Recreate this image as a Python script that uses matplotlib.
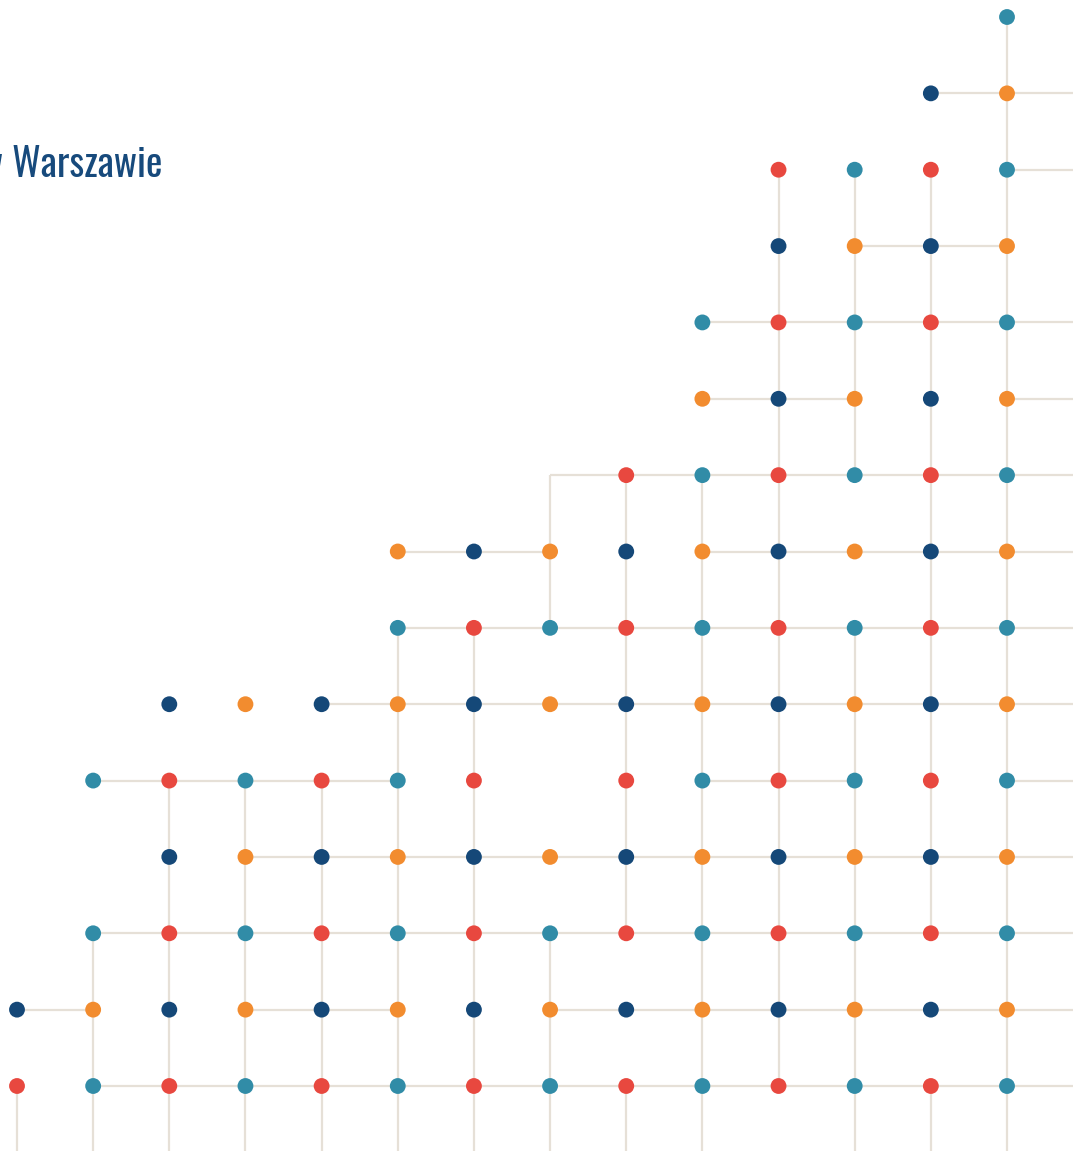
import matplotlib
matplotlib.use("Agg")
import matplotlib.pyplot as plt
from matplotlib.collections import LineCollection

# ---------------- data ----------------
# rows (0 = bottom) holding a dot, per column (0 = left)
column_dot_rows = [
    [0, 1],
    [0, 1, 2, 4],
    [0, 1, 2, 3, 4, 5],
    [0, 1, 2, 3, 4, 5],
    [0, 1, 2, 3, 4, 5],
    [0, 1, 2, 3, 4, 5, 6, 7],
    [0, 1, 2, 3, 4, 5, 6, 7],
    [0, 1, 2, 3, 5, 6, 7],
    [0, 1, 2, 3, 4, 5, 6, 7, 8],
    [0, 1, 2, 3, 4, 5, 6, 7, 8, 9, 10],
    [0, 1, 2, 3, 4, 5, 6, 7, 8, 9, 10, 11, 12],
    [0, 1, 2, 3, 4, 5, 6, 7, 8, 9, 10, 11, 12],
    [0, 1, 2, 3, 4, 5, 6, 7, 8, 9, 10, 11, 12, 13],
    [0, 1, 2, 3, 4, 5, 6, 7, 8, 9, 10, 11, 12, 13, 14],
]

# vertical connector segments: lower row r joins r -> r+1 ; -1 = runs off the bottom edge
vertical_links = [
    [-1],
    [-1, 0, 1],
    [-1, 0, 1, 2, 3],
    [-1, 0, 1, 2, 3],
    [-1, 0, 1, 2, 3],
    [-1, 0, 1, 2, 3, 4, 5],
    [-1, 0, 1, 2, 3, 4, 5],
    [-1, 0, 1, 6, 7],
    [-1, 2, 3, 4, 5, 6, 7],
    [-1, 0, 1, 2, 3, 4, 5, 6, 7],
    [0, 1, 2, 3, 4, 5, 6, 7, 8, 9, 10, 11],
    [-1, 0, 1, 2, 3, 4, 5, 8, 9, 10, 11],
    [-1, 2, 3, 4, 5, 6, 7, 8, 9, 10, 11],
    [-1, 0, 1, 2, 3, 4, 5, 6, 7, 8, 9, 10, 11, 12, 13],
]

# horizontal connector segments per row: left column c joins c -> c+1 ; 13 = runs off the right edge
horizontal_links = [
    [1, 2, 3, 4, 5, 6, 7, 8, 9, 10, 11, 12, 13],
    [0, 3, 4, 7, 8, 9, 10, 11, 12, 13],
    [1, 2, 3, 4, 5, 6, 7, 8, 9, 10, 11, 12, 13],
    [3, 4, 5, 6, 7, 8, 9, 10, 11, 12, 13],
    [1, 2, 3, 4, 9, 10, 13],
    [4, 5, 6, 7, 8, 9, 10, 11, 12, 13],
    [5, 6, 7, 8, 9, 10, 11, 12, 13],
    [5, 6, 9, 10, 11, 12, 13],
    [7, 8, 9, 10, 11, 12, 13],
    [9, 10, 13],
    [9, 10, 11, 12, 13],
    [11, 12],
    [13],
    [12, 13],
    [],
]

title_text = "w Warszawie"

# ---------------- style ----------------
RED = "#e8483f"
TEAL = "#318ca7"
NAVY = "#154878"
ORANGE = "#f28c2f"
LINE = "#e6e0d7"
palette = {(0, 0): RED, (0, 1): TEAL, (1, 0): NAVY, (1, 1): ORANGE}
TITLE_FONT = ["Oswald", "Barlow Condensed", "Archivo Narrow", "DejaVu Sans"]

W, H = 1073, 1151
fig = plt.figure(figsize=(W / 100, H / 100), dpi=100)
ax = fig.add_axes([0, 0, 1, 1])
ax.set_axis_off()

x0_px, dx_px = 17.0, (1007 - 17) / 13
y0_px, dy_px = 1086.0, (1086 - 17) / 14
ax.set_xlim(-x0_px / dx_px, (W - x0_px) / dx_px)
ax.set_ylim(-(H - y0_px) / dy_px, 14 + 17 / dy_px)

xmax = (W - x0_px) / dx_px + 0.1
ymin = -(H - y0_px) / dy_px - 0.1

segs = []
for c, rows in enumerate(vertical_links):
    for r in rows:
        lo = ymin if r == -1 else r
        segs.append([(c, lo), (c, r + 1)])
for r, cols in enumerate(horizontal_links):
    for c in cols:
        hi = xmax if c == 13 else c + 1
        segs.append([(c, r), (hi, r)])
ax.add_collection(LineCollection(segs, colors=LINE, linewidths=1.6,
                                 capstyle="butt", zorder=1))

xs, ys, cs = [], [], []
for c, rows in enumerate(column_dot_rows):
    for r in rows:
        xs.append(c)
        ys.append(r)
        cs.append(palette[(r % 2, c % 2)])
ax.scatter(xs, ys, s=130, c=cs, linewidths=0, zorder=3)

# fit the title so that the word "Warszawie" spans ~150 px
renderer = fig.canvas.get_renderer()
probe = fig.text(0, 0, title_text.split(" ")[-1], fontsize=40, family=TITLE_FONT)
wpx = probe.get_window_extent(renderer).width
probe.remove()
fs = 40 * 150.0 / wpx

fig.text(162 / W, 1 - 177 / H, title_text, ha="right", va="baseline",
         fontsize=fs, color="#174a7c", family=TITLE_FONT)

fig.savefig("out.png", dpi=100, facecolor="white")
